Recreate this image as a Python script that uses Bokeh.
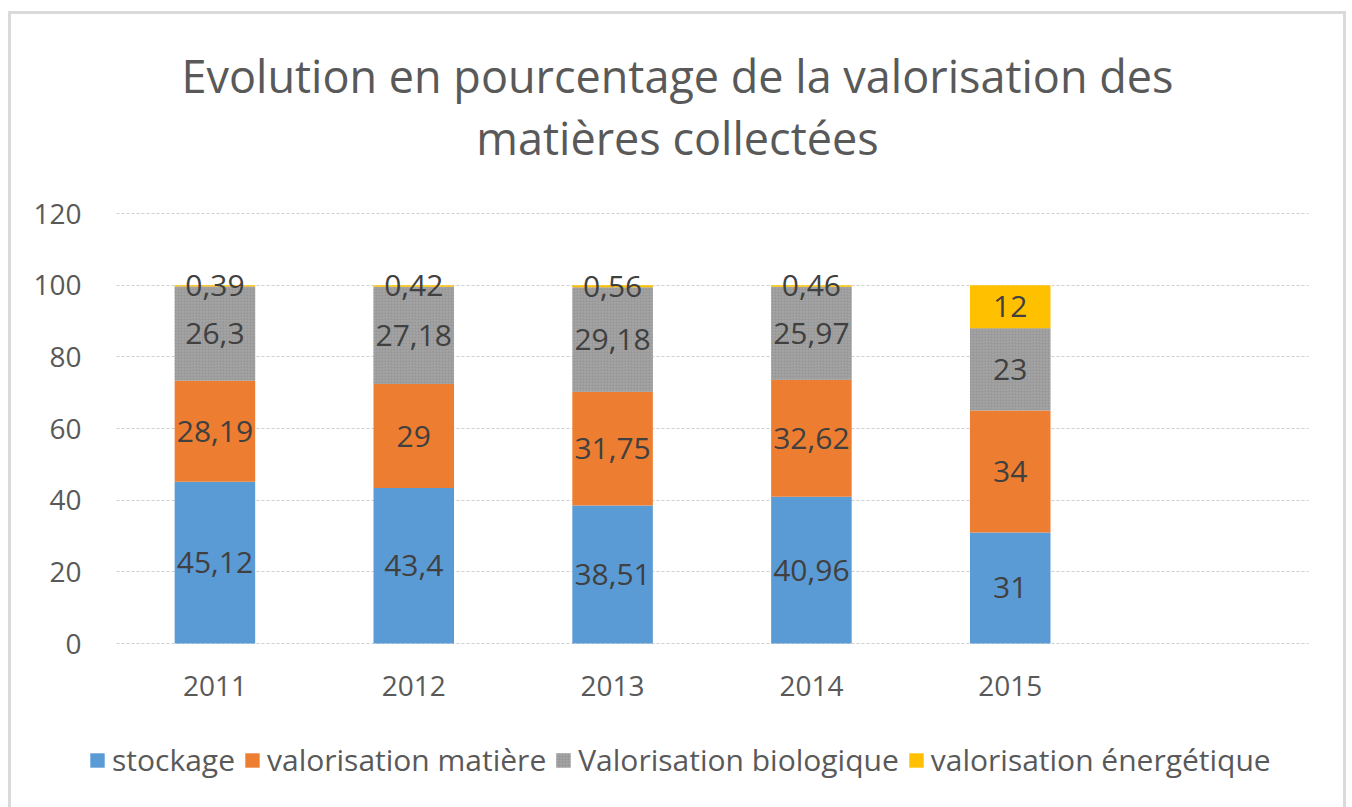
from bokeh.plotting import figure
from bokeh.models import (ColumnDataSource, FixedTicker, Legend, LegendItem, Range1d,
                          Label, BoxAnnotation)
from bokeh.embed import file_html
from bokeh.resources import INLINE
from bokeh.core.properties import value

years = ["2011", "2012", "2013", "2014", "2015"]
stockage = [45.12, 43.4, 38.51, 40.96, 31]
val_matiere = [28.19, 29, 31.75, 32.62, 34]
val_bio = [26.3, 27.18, 29.18, 25.97, 23]
val_energ = [0.39, 0.42, 0.56, 0.46, 12]

series_names = ["stockage", "valorisation matière", "Valorisation biologique", "valorisation énergétique"]
series = [stockage, val_matiere, val_bio, val_energ]
colors = ["#5b9bd5", "#ed7d31", "#a5a5a5", "#ffc000"]
title_lines = ["Evolution en pourcentage de la valorisation des", "matières collectées"]
y_ticks = [0, 20, 40, 60, 80, 100, 120]

FONT = "Open Sans"
TXT = "#595959"

W, H = 1338, 796

p = figure(width=W, height=H, output_backend="svg", toolbar_location=None,
           x_range=Range1d(-0.0231, 6.7063), y_range=Range1d(-46.60, 175.54),
           min_border_left=0, min_border_right=0, min_border_top=0, min_border_bottom=0)
p.styles = {"border": "3px solid #dadada", "border-bottom": "none",
            "margin-left": "8px", "margin-top": "11px"}
p.title = None
p.outline_line_color = None
p.border_fill_color = "white"
p.background_fill_color = "white"

# grid (category area only)
p.xgrid.grid_line_color = None
p.ygrid.ticker = FixedTicker(ticks=y_ticks)
p.ygrid.grid_line_color = "#cfcfcf"
p.ygrid.grid_line_dash = "3 2"
p.ygrid.grid_line_width = 1
p.add_layout(BoxAnnotation(right=0.5, fill_color="white", fill_alpha=1, line_color=None, level="underlay"))
p.add_layout(BoxAnnotation(left=6.5, fill_color="white", fill_alpha=1, line_color=None, level="underlay"))

xs = list(range(1, len(years) + 1))
bottom = [0.0] * len(years)
items = []
for name, vals, col in zip(series_names, series, colors):
    top = [b + v for b, v in zip(bottom, vals)]
    src = ColumnDataSource(dict(x=xs, bottom=bottom, top=top,
                                mid=[(b + t) / 2 for b, t in zip(bottom, top)],
                                lab=[f"{v:g}".replace(".", ",") for v in vals]))
    kw = {}
    if name == "Valorisation biologique":
        kw = dict(hatch_pattern="criss_cross", hatch_color="#8a8a8a", hatch_alpha=0.25,
                  hatch_scale=3, hatch_weight=1)
    r = p.vbar(x="x", width=0.405, bottom="bottom", top="top", source=src,
               fill_color=col, line_color=None, **kw)
    p.text(x="x", y="mid", text="lab", source=src, text_align="center", text_baseline="middle",
           text_font=value(FONT), text_font_size="30px", text_color="#404040")
    items.append(LegendItem(label=name, renderers=[r]))
    bottom = top

# axes drawn at fixed data locations
p.xaxis.fixed_location = 0
p.yaxis.fixed_location = 0.5
p.xaxis.ticker = FixedTicker(ticks=xs)
p.xaxis.major_label_overrides = {i: y for i, y in zip(xs, years)}
p.yaxis.ticker = FixedTicker(ticks=y_ticks)
for ax in (p.xaxis[0], p.yaxis[0]):
    ax.axis_line_color = None
    ax.major_tick_line_color = None
    ax.minor_tick_line_color = None
    ax.major_label_text_font = FONT
    ax.major_label_text_color = TXT
    ax.major_label_text_font_size = "28px"
p.yaxis.major_label_standoff = 28
p.xaxis.major_label_standoff = 26

# title lines
for txt, yy in zip(title_lines, [H - 61, H - 123]):
    p.add_layout(Label(x=666, y=yy, x_units="screen", y_units="screen", text=txt,
                       text_align="center", text_baseline="middle", text_font=FONT,
                       text_font_size="45px", text_color=TXT))

legend = Legend(items=items, orientation="horizontal", location=(77, 30),
                label_text_font=FONT, label_text_font_size="30px", label_text_color=TXT,
                glyph_width=18, glyph_height=18, spacing=8, label_standoff=6,
                border_line_color=None, background_fill_alpha=0, margin=0, padding=0)
p.add_layout(legend, "center")

open("out.html", "w").write(file_html(p, INLINE))
